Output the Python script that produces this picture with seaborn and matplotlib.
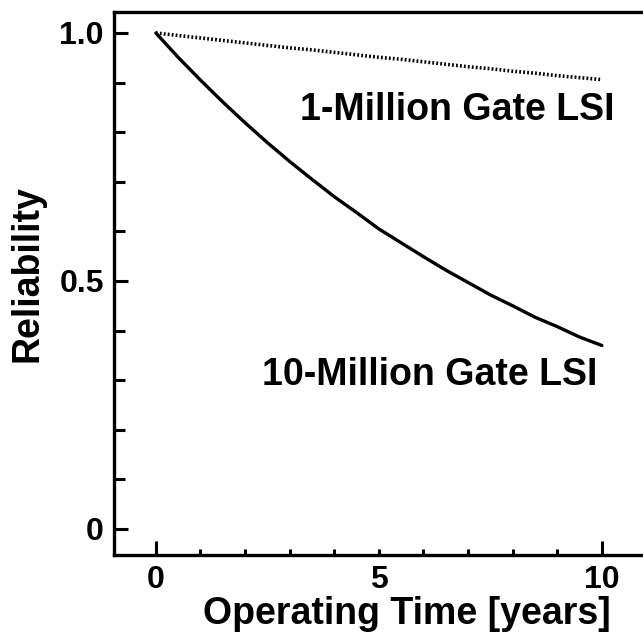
import numpy as np
import pandas as pd
import matplotlib
matplotlib.use("Agg")
import matplotlib.pyplot as plt
import seaborn as sns
from matplotlib.ticker import MultipleLocator, FixedLocator

years = [0, 0.5, 1, 1.5, 2, 2.5, 3, 3.5, 4, 4.5, 5, 5.5, 6, 6.5, 7, 7.5, 8, 8.5, 9, 9.5, 10]
rel_1m = [1.0, 0.995, 0.990, 0.985, 0.980, 0.975, 0.970, 0.966, 0.961, 0.956, 0.951,
          0.947, 0.942, 0.937, 0.932, 0.928, 0.923, 0.919, 0.914, 0.910, 0.906]
rel_10m = [1.0, 0.951, 0.905, 0.861, 0.819, 0.779, 0.741, 0.705, 0.670, 0.638, 0.605,
           0.577, 0.549, 0.522, 0.497, 0.472, 0.450, 0.427, 0.408, 0.387, 0.370]
label_1m = "1-Million Gate LSI"
label_10m = "10-Million Gate LSI"
xtick_labels = ["0", "5", "10"]
ytick_labels = ["0", "0.5", "1.0"]

sns.set_theme(style="ticks")
plt.rcParams['font.family'] = ['Liberation Sans', 'DejaVu Sans']
plt.rcParams['font.weight'] = 'bold'
plt.rcParams['text.color'] = 'black'
plt.rcParams['axes.labelcolor'] = 'black'

fig = plt.figure(figsize=(6.43, 6.35), dpi=100)
# axes extends past the right edge of figure (cropped like the original)
ax = fig.add_axes([113.5 / 643, 80 / 635, 548.5 / 643, 543 / 635])

df1 = pd.DataFrame({"t": years, "r": rel_1m})
df10 = pd.DataFrame({"t": years, "r": rel_10m})
sns.lineplot(data=df1, x="t", y="r", ax=ax, color="black", lw=2.6,
             linestyle=(0, (0.5, 0.6)))
sns.lineplot(data=df10, x="t", y="r", ax=ax, color="black", lw=2.4)

ax.set_xlim(-0.95, -0.95 + 548.5 / 44.6)
ax.set_ylim(-26 / 496, 1 + 21 / 496)

ax.xaxis.set_major_locator(FixedLocator([0, 5, 10]))
ax.xaxis.set_minor_locator(MultipleLocator(1))
ax.yaxis.set_major_locator(FixedLocator([0, 0.5, 1.0]))
ax.yaxis.set_minor_locator(MultipleLocator(0.1))
ax.set_xticklabels(xtick_labels)
ax.set_yticklabels(ytick_labels)

ax.tick_params(axis="both", which="both", direction="in", width=2.2,
               colors="black", labelsize=23)
ax.tick_params(axis="y", which="major", length=10, pad=7)
ax.tick_params(axis="y", which="minor", length=8)
ax.tick_params(axis="x", which="major", length=4, pad=7)
ax.tick_params(axis="x", which="minor", length=4)
xt = ax.xaxis.get_major_ticks()
for i in (0, 2):
    xt[i].tick1line.set_markersize(10)

for s in ax.spines.values():
    s.set_linewidth(2.4)
    s.set_color("black")

ax.set_xlabel("Operating Time [years]", fontsize=27, fontweight="bold")
ax.set_ylabel("Reliability", fontsize=27, fontweight="bold")
ax.xaxis.set_label_coords(0.535, -0.127)
ax.xaxis.label.set_va("baseline")
ax.yaxis.set_label_coords(-0.157, 0.518)
ax.yaxis.label.set_va("center")

ax.text(10.29, 0.845, label_1m, fontsize=27, fontweight="bold",
        ha="right", va="center")
ax.text(9.91, 0.31, label_10m, fontsize=27, fontweight="bold",
        ha="right", va="center")

fig.savefig("out.png", dpi=100)
